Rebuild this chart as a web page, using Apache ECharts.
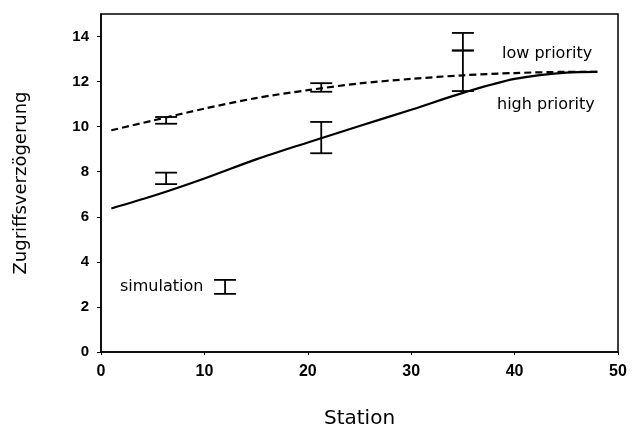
<!DOCTYPE html>
<html>
<head>
<meta charset="utf-8">
<script src="https://cdn.jsdelivr.net/npm/echarts@6/dist/echarts.min.js"></script>
<style>
  html, body { margin: 0; padding: 0; background: #fff; }
  #chart { width: 632px; height: 429px; }
</style>
</head>
<body>
<div id="chart"></div>
<script>
// analytic curves
const curveStations = [1, 5, 10, 15, 20, 25, 30, 35, 40, 45, 48];
const highPriority = [6.37, 6.92, 7.7, 8.55, 9.3, 10.03, 10.75, 11.5, 12.12, 12.4, 12.43];
const lowPriority = [9.84, 10.27, 10.8, 11.27, 11.62, 11.92, 12.12, 12.28, 12.38, 12.43, 12.43];

// simulation error bars
const simStations = [6.3, 21.3, 35];
const simLowMin = [10.13, 11.55, 13.38];
const simLowMax = [10.43, 11.93, 14.16];
const simHighMin = [7.45, 8.82, 11.58];
const simHighMax = [7.96, 10.21, 13.38];

// legend sample bar
const legendBar = [[12, 2.58, 3.2]];

const xTicks = [0, 10, 20, 30, 40, 50];
const yTicks = [0, 2, 4, 6, 8, 10, 12, 14];

const myChart = echarts.init(document.getElementById('chart'));

const renderErrorBar = (params, api) => {
    const x = api.value(0);
    const lo = api.coord([x, api.value(1)]);
    const hi = api.coord([x, api.value(2)]);
    const hw = 11;
    const style = { stroke: '#000', lineWidth: 1.8 };
    return {
        type: 'group',
        children: [
            { type: 'line', shape: { x1: lo[0], y1: lo[1], x2: hi[0], y2: hi[1] }, style },
            { type: 'line', shape: { x1: lo[0] - hw, y1: lo[1], x2: lo[0] + hw, y2: lo[1] }, style },
            { type: 'line', shape: { x1: hi[0] - hw, y1: hi[1], x2: hi[0] + hw, y2: hi[1] }, style }
        ]
    };
};

const labelFont = { fontFamily: 'DejaVu Sans', fontSize: 16, fill: '#000' };

const option = {
    backgroundColor: '#fff',
    animation: false,
    grid: {
        left: 101,
        right: 14,
        top: 14,
        bottom: 77,
        outerBoundsMode: 'none',
        show: true,
        borderColor: '#000',
        borderWidth: 1.5
    },
    xAxis: {
        type: 'value',
        min: 0,
        max: 50,
        interval: 10,
        name: 'Station',
        nameLocation: 'middle',
        nameGap: 57,
        nameTextStyle: { fontFamily: 'DejaVu Sans', fontSize: 20, color: '#000' },
        axisLine: { lineStyle: { color: '#000', width: 1.5 } },
        axisTick: { show: true, length: 3, lineStyle: { color: '#000' }, customValues: xTicks },
        axisLabel: {
            color: '#000',
            fontFamily: 'Liberation Sans',
            fontWeight: 'bold',
            fontSize: 16,
            margin: 12,
            customValues: xTicks
        },
        splitLine: { show: false }
    },
    yAxis: {
        type: 'value',
        min: 0,
        max: 15,
        interval: 2,
        name: 'Zugriffsverzögerung',
        nameLocation: 'middle',
        nameGap: 71,
        nameTextStyle: { fontFamily: 'DejaVu Sans', fontSize: 18, color: '#000' },
        axisLine: { show: true, lineStyle: { color: '#000', width: 1.5 } },
        axisTick: { show: true, length: 4, lineStyle: { color: '#000' }, customValues: yTicks },
        axisLabel: {
            color: '#000',
            fontFamily: 'Liberation Sans',
            fontWeight: 'bold',
            fontSize: 15,
            margin: 12,
            customValues: yTicks
        },
        splitLine: { show: false }
    },
    graphic: [
        { type: 'text', x: 502, y: 54, style: Object.assign({ text: 'low priority', textVerticalAlign: 'middle' }, labelFont) },
        { type: 'text', x: 497, y: 104.5, style: Object.assign({ text: 'high priority', textVerticalAlign: 'middle' }, labelFont) },
        { type: 'text', x: 120, y: 287, style: Object.assign({ text: 'simulation', textVerticalAlign: 'middle' }, labelFont) }
    ],
    series: [
        {
            name: 'high priority',
            type: 'line',
            smooth: 0.3,
            showSymbol: false,
            data: curveStations.map((s, i) => [s, highPriority[i]]),
            lineStyle: { color: '#000', width: 2.2 }
        },
        {
            name: 'low priority',
            type: 'line',
            smooth: 0.3,
            showSymbol: false,
            data: curveStations.map((s, i) => [s, lowPriority[i]]),
            lineStyle: { color: '#000', width: 2.2, type: [7, 4] }
        },
        {
            name: 'simulation low',
            type: 'custom',
            renderItem: renderErrorBar,
            data: simStations.map((s, i) => [s, simLowMin[i], simLowMax[i]])
        },
        {
            name: 'simulation high',
            type: 'custom',
            renderItem: renderErrorBar,
            data: simStations.map((s, i) => [s, simHighMin[i], simHighMax[i]])
        },
        {
            name: 'legend',
            type: 'custom',
            renderItem: renderErrorBar,
            data: legendBar
        }
    ]
};
myChart.setOption(option);
</script>
</body>
</html>
